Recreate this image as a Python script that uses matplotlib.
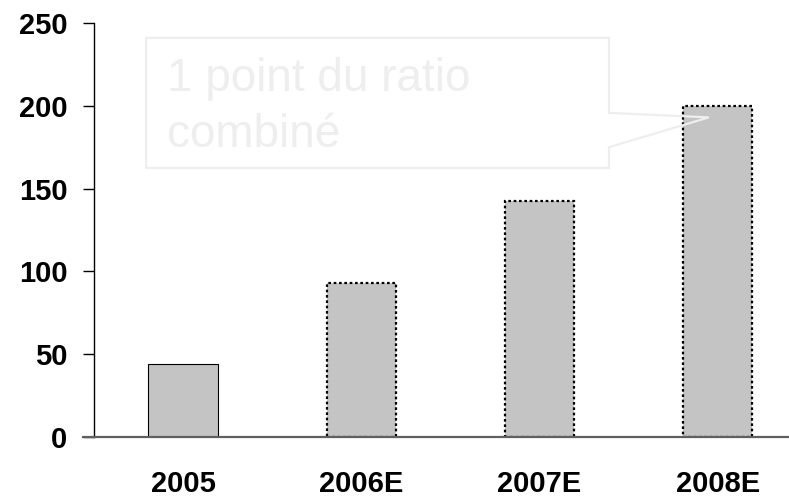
import matplotlib.pyplot as plt
from matplotlib.patches import Polygon

years = ["2005", "2006E", "2007E", "2008E"]
values = [44, 93, 142.5, 200]
estimated = [False, True, True, True]
y_ticks = [0, 50, 100, 150, 200, 250]
callout_text = "1 point du ratio\ncombiné"

plt.rcParams["font.family"] = ["Liberation Sans", "DejaVu Sans"]

fig = plt.figure(figsize=(7.89, 5), dpi=100)
ax = fig.add_axes([94 / 789, 63 / 500, 695 / 789, 414 / 500])

x = range(len(years))
bars = ax.bar(x, values, width=0.39, color="#c4c4c4", edgecolor="black",
              linewidth=0.8, zorder=2)
for bar, est in zip(bars, estimated):
    if est:
        bar.set_linestyle((0, (1.2, 1.2)))
        bar.set_linewidth(1.6)

ax.set_xlim(-0.5, 3.4)
ax.set_ylim(0, 250)
ax.set_yticks(y_ticks)
ax.set_xticks(list(x))
ax.set_xticklabels(years)

for s in ["top", "right", "bottom"]:
    ax.spines[s].set_visible(False)
ax.spines["left"].set_linewidth(1)

ax.tick_params(axis="y", direction="out", length=8, width=1, pad=11,
               labelsize=21)
ax.tick_params(axis="x", length=0, pad=24, labelsize=21)
for lab in ax.get_xticklabels() + ax.get_yticklabels():
    lab.set_fontweight("bold")

# grey base line, running a bit left of the y axis
ax.plot([-11 / 695, 1], [0, 0], transform=ax.transAxes, color="#606060",
        lw=1.6, clip_on=False, zorder=3)

# callout box pointing at the 2008E bar
tip = ax.transAxes.inverted().transform(ax.transData.transform((2.95, 193)))
left, right, bottom, top = 0.075, 0.741, 0.650, 0.964
pts = [(left, bottom), (left, top), (right, top), (right, 0.783),
       tuple(tip), (right, 0.700), (right, bottom)]
ax.add_patch(Polygon(pts, closed=True, fill=False, edgecolor="#eeeeee",
                     lw=1.6, transform=ax.transAxes, zorder=4,
                     clip_on=False))
ax.text(left + 0.03, 0.918, callout_text, transform=ax.transAxes,
        fontsize=33, color="#eeeeee", va="top", ha="left", linespacing=1.34,
        zorder=5)

fig.savefig("out.png", dpi=100)
